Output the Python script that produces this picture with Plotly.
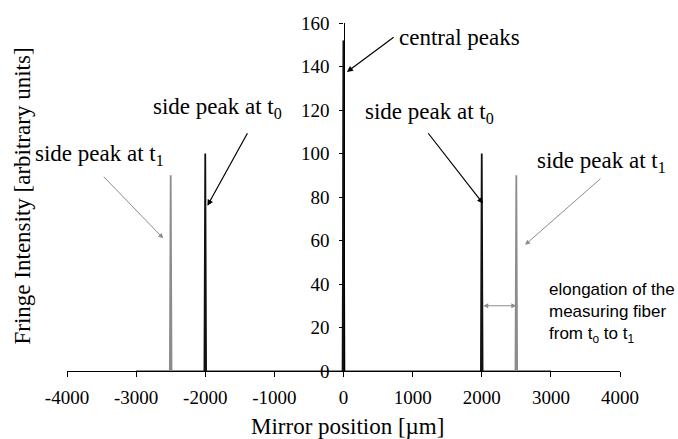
import plotly.graph_objects as go

# Peak positions (µm) and heights (arbitrary units) at the two times
t0_positions = [-2000, 0, 2000]
t0_heights = [100, 152, 100]
t1_positions = [-2500, 0, 2500]
t1_heights = [90, 152, 90]
baseline_span = [-3000, 3000]

x_ticks = [-4000, -3000, -2000, -1000, 0, 1000, 2000, 3000, 4000]
y_ticks = [0, 20, 40, 60, 80, 100, 120, 140, 160]

HALF_WIDTH = 12  # half width of each narrow fringe packet, µm


def spikes(positions, heights, with_baseline=False):
    xs, ys = [], []
    if with_baseline:
        xs.append(baseline_span[0])
        ys.append(0)
    for p, h in zip(positions, heights):
        xs += [p - HALF_WIDTH, p, p + HALF_WIDTH]
        ys += [0, h, 0]
        if not with_baseline:
            xs.append(None)
            ys.append(None)
    if with_baseline:
        xs.append(baseline_span[1])
        ys.append(0)
    return xs, ys


fig = go.Figure()

x1, y1 = spikes(t1_positions, t1_heights, with_baseline=True)
fig.add_trace(go.Scatter(x=x1, y=y1, mode="lines",
                         line=dict(color="#8c8c8c", width=1.8),
                         showlegend=False, hoverinfo="skip"))

x0, y0 = spikes(t0_positions, t0_heights)
fig.add_trace(go.Scatter(x=x0, y=y0, mode="lines",
                         line=dict(color="#111111", width=1.8),
                         showlegend=False, hoverinfo="skip"))

serif = "Liberation Serif, Times New Roman, serif"
sans = "Liberation Sans, Arial, sans-serif"

W, H = 678, 439
L, R, T, B = 66.7, 58, 23, 68.3

annotations = []


def arrow(tip, tail, color, width, head=2, size=1.0, side="end"):
    annotations.append(dict(
        x=tip[0], y=tip[1], ax=tail[0], ay=tail[1],
        xref="x", yref="y", axref="x", ayref="y",
        text="", showarrow=True, arrowhead=head, arrowsize=size,
        arrowwidth=width, arrowcolor=color, standoff=0, startstandoff=0,
        arrowside=side))


def label(px, py, text, size=23, family=serif, anchor="left", **kw):
    # place by pixel position on the page
    annotations.append(dict(
        x=(px - L) / (W - L - R), y=(H - B - py) / (H - T - B),
        xref="paper", yref="paper", text=text, showarrow=False,
        xanchor=anchor, yanchor="middle",
        font=dict(family=family, size=size, color="black"), **kw))


# central peaks
label(397, 37, "central peaks")
arrow((50, 137.5), (747, 154), "black", 1.2)

# left side peaks
label(151, 108, "side peak at t<sub>0</sub>")
arrow((-1968, 76), (-1378, 110), "black", 1.2)
label(33, 155, "side peak at t<sub>1</sub>")
arrow((-2607, 61), (-3489, 90), "#8c8c8c", 1.0)

# right side peaks
label(363, 113, "side peak at t<sub>0</sub>")
arrow((2019, 77), (1209, 110), "black", 1.2)
label(535, 162, "side peak at t<sub>1</sub>")
arrow((2626, 58), (3739, 89), "#8c8c8c", 1.0)

# elongation between the two side peaks
arrow((2500, 30), (2000, 30), "#8c8c8c", 1.0, head=2, size=1.0, side="end+start")
label(547, 313,
      "elongation of the<br>measuring fiber<br>from t<sub>o</sub> to t<sub>1</sub>",
      size=17, family=sans, align="left")

# axis titles
label(347, 426, "Mirror position [µm]", anchor="center")
label(22, 196, "Fringe Intensity [arbitrary units]", anchor="center",
      textangle=-90)

fig.update_layout(
    width=W, height=H,
    margin=dict(l=L, r=R, t=T, b=B, pad=0),
    paper_bgcolor="white", plot_bgcolor="white",
    font=dict(family=serif, size=19, color="black"),
    annotations=annotations,
    xaxis=dict(range=[-4000, 4000], tickvals=x_ticks,
               ticktext=[str(v) for v in x_ticks],
               showgrid=False, zeroline=False, showline=True,
               linecolor="black", linewidth=1.2,
               ticks="outside", ticklen=5, tickwidth=1.2, tickcolor="black",
               ticklabelstandoff=4, layer="below traces"),
    yaxis=dict(range=[0, 160], tickvals=y_ticks,
               showgrid=False, zeroline=False, showline=True,
               linecolor="black", linewidth=1.2,
               anchor="free", position=0.5,
               ticks="outside", ticklen=4, tickwidth=1.2, tickcolor="black",
               ticklabelstandoff=6),
)

fig.write_html("out.html")
